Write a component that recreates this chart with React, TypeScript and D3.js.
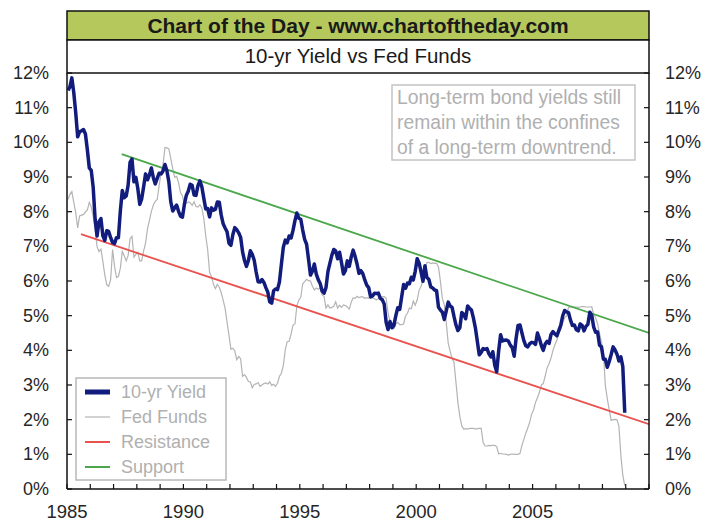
import React from "react";
import * as d3 from "d3";

const START_YEAR = 1985;

// 10-yr Treasury yield, monthly, Jan 1985 .. Dec 2008 (%)
const yield10: number[] = [
  11.5, 11.6, 11.86, 11.43, 10.85, 10.16, 10.31, 10.33, 10.37, 10.24, 9.78, 9.26,
  9.19, 8.7, 7.78, 7.3, 7.71, 7.8, 7.3, 7.17, 7.45, 7.43, 7.25, 7.11,
  7.08, 7.25, 7.25, 8.02, 8.61, 8.4, 8.45, 8.76, 9.42, 9.52, 8.86, 8.99,
  8.67, 8.21, 8.37, 8.72, 9.09, 8.92, 9.06, 9.26, 8.98, 8.8, 8.96, 9.11,
  9.09, 9.17, 9.36, 9.18, 8.86, 8.28, 8.02, 8.11, 8.19, 8.01, 7.87, 7.84,
  8.21, 8.47, 8.59, 8.79, 8.76, 8.48, 8.47, 8.75, 8.89, 8.72, 8.39, 8.08,
  8.09, 7.85, 8.11, 8.04, 8.07, 8.28, 8.27, 7.9, 7.65, 7.53, 7.42, 7.09,
  7.03, 7.34, 7.54, 7.48, 7.39, 7.26, 6.84, 6.59, 6.42, 6.59, 6.87, 6.77,
  6.6, 6.26, 5.98, 5.97, 6.04, 5.96, 5.81, 5.68, 5.4, 5.36, 5.72, 5.77,
  5.75, 5.97, 6.48, 6.97, 7.18, 7.1, 7.3, 7.24, 7.46, 7.74, 7.96, 7.81,
  7.78, 7.47, 7.2, 7.06, 6.63, 6.17, 6.28, 6.49, 6.2, 6.04, 5.93, 5.71,
  5.65, 5.81, 6.27, 6.51, 6.74, 6.91, 6.87, 6.64, 6.83, 6.53, 6.2, 6.3,
  6.58, 6.42, 6.69, 6.89, 6.71, 6.49, 6.22, 6.3, 6.21, 6.03, 5.88, 5.81,
  5.54, 5.57, 5.65, 5.64, 5.65, 5.5, 5.46, 5.34, 4.81, 4.6, 4.83, 4.65,
  4.72, 5.0, 5.23, 5.18, 5.54, 5.9, 5.79, 5.94, 5.92, 6.11, 6.03, 6.28,
  6.64, 6.52, 6.26, 5.99, 6.44, 6.1, 6.05, 5.83, 5.8, 5.74, 5.72, 5.24,
  5.16, 5.1, 4.89, 5.14, 5.39, 5.28, 5.24, 4.97, 4.73, 4.57, 4.65, 5.09,
  5.04, 4.91, 5.28, 5.21, 5.16, 4.93, 4.65, 4.26, 3.87, 3.94, 4.05, 4.03,
  4.05, 3.9, 3.81, 3.96, 3.57, 3.38, 3.98, 4.45, 4.27, 4.29, 4.3, 4.27,
  4.15, 4.08, 3.83, 4.35, 4.72, 4.73, 4.5, 4.28, 4.13, 4.1, 4.19, 4.23,
  4.22, 4.17, 4.5, 4.34, 4.14, 4.0, 4.18, 4.26, 4.2, 4.46, 4.54, 4.47,
  4.42, 4.57, 4.72, 4.99, 5.15, 5.11, 5.09, 4.88, 4.72, 4.73, 4.6, 4.56,
  4.76, 4.72, 4.56, 4.69, 4.75, 5.1, 5.0, 4.67, 4.52, 4.53, 4.15, 4.1,
  3.74, 3.74, 3.51, 3.68, 3.88, 4.1, 4.01, 3.89, 3.69, 3.81, 3.53, 2.2,
];

// Effective Fed Funds rate, monthly, Jan 1985 .. Dec 2008 (%)
const fedFunds: number[] = [
  8.35, 8.5, 8.58, 8.27, 7.97, 7.53, 7.88, 7.9, 7.92, 7.99, 8.05, 8.27,
  8.14, 7.86, 7.48, 6.99, 6.85, 6.92, 6.56, 6.17, 5.89, 5.85, 6.04, 6.91,
  6.43, 6.1, 6.13, 6.37, 6.85, 6.73, 6.58, 6.73, 7.22, 7.29, 6.69, 6.77,
  6.83, 6.58, 6.58, 6.87, 7.09, 7.51, 7.75, 8.01, 8.19, 8.3, 8.35, 8.76,
  9.12, 9.36, 9.85, 9.84, 9.81, 9.53, 9.24, 8.99, 9.02, 8.84, 8.55, 8.45,
  8.23, 8.24, 8.28, 8.26, 8.18, 8.29, 8.15, 8.13, 8.2, 8.11, 7.81, 7.31,
  6.91, 6.25, 6.12, 5.91, 5.78, 5.9, 5.82, 5.66, 5.45, 5.21, 4.81, 4.43,
  4.03, 4.06, 3.98, 3.73, 3.82, 3.76, 3.25, 3.3, 3.22, 3.1, 3.09, 2.92,
  3.02, 3.03, 3.07, 2.96, 3.0, 3.04, 3.06, 3.03, 3.09, 2.99, 3.02, 2.96,
  3.05, 3.25, 3.34, 3.56, 4.01, 4.25, 4.26, 4.47, 4.73, 4.76, 5.29, 5.45,
  5.53, 5.92, 5.98, 6.05, 6.01, 6.0, 5.85, 5.74, 5.8, 5.76, 5.8, 5.6,
  5.56, 5.22, 5.31, 5.22, 5.24, 5.27, 5.4, 5.22, 5.3, 5.24, 5.31, 5.29,
  5.25, 5.19, 5.39, 5.51, 5.5, 5.56, 5.52, 5.54, 5.54, 5.5, 5.52, 5.5,
  5.56, 5.51, 5.49, 5.45, 5.49, 5.56, 5.54, 5.55, 5.51, 5.07, 4.83, 4.68,
  4.63, 4.76, 4.81, 4.74, 4.74, 4.76, 4.99, 5.07, 5.22, 5.2, 5.42, 5.3,
  5.45, 5.73, 5.85, 6.02, 6.27, 6.53, 6.54, 6.5, 6.52, 6.51, 6.51, 6.4,
  5.98, 5.49, 5.31, 4.8, 4.21, 3.97, 3.77, 3.65, 3.07, 2.49, 2.09, 1.82,
  1.73, 1.74, 1.73, 1.75, 1.75, 1.75, 1.73, 1.74, 1.75, 1.75, 1.34, 1.24,
  1.24, 1.26, 1.25, 1.26, 1.26, 1.22, 1.01, 1.03, 1.01, 1.01, 1.0, 0.98,
  1.0, 1.01, 1.0, 1.0, 1.0, 1.03, 1.26, 1.43, 1.61, 1.76, 1.93, 2.16,
  2.28, 2.5, 2.63, 2.79, 3.0, 3.04, 3.26, 3.5, 3.62, 3.78, 4.0, 4.16,
  4.29, 4.49, 4.59, 4.79, 4.94, 4.99, 5.24, 5.25, 5.25, 5.25, 5.25, 5.24,
  5.25, 5.26, 5.26, 5.25, 5.25, 5.25, 5.26, 5.02, 4.94, 4.76, 4.49, 4.24,
  3.94, 2.98, 2.61, 2.28, 1.98, 2.0, 2.01, 2.0, 1.81, 0.97, 0.39, 0.1,
];

// Trend lines: [year, value]
const resistance: [number, number][] = [[1985.6, 7.35], [2010, 1.87]];
const support: [number, number][] = [[1987.35, 9.66], [2010, 4.5]];

const yTicks = [0, 1, 2, 3, 4, 5, 6, 7, 8, 9, 10, 11, 12];
const xLabelYears = [1985, 1990, 1995, 2000, 2005];
const xTickYears = d3.range(1985, 2011);

const titleText = "Chart of the Day - www.chartoftheday.com";
const subtitleText = "10-yr Yield vs Fed Funds";
const noteLines = [
  "Long-term bond yields still",
  "remain within the confines",
  "of a long-term downtrend.",
];
const legendItems = [
  { label: "10-yr Yield", color: "#111c7c", width: 5 },
  { label: "Fed Funds", color: "#b4b4b4", width: 1.2 },
  { label: "Resistance", color: "#e8524f", width: 2 },
  { label: "Support", color: "#4aa84a", width: 2 },
];

const FONT = "'Liberation Sans', Arial, sans-serif";

export default function App() {
  const W = 705;
  const H = 523;
  const left = 67;
  const right = 649;
  const top = 73;
  const bottom = 489;

  const x = d3.scaleLinear().domain([1985, 2010]).range([left, right]);
  const y = d3.scaleLinear().domain([0, 12]).range([bottom, top]);

  const toDate = (i: number) => START_YEAR + i / 12 + 1 / 24;
  const line = d3
    .line<number>()
    .x((_, i) => x(toDate(i)))
    .y((d) => y(d));
  const segLine = d3
    .line<[number, number]>()
    .x((d) => x(d[0]))
    .y((d) => y(d[1]));

  return (
    <svg
      width={W}
      height={H}
      style={{ position: "absolute", left: 0, top: 0, background: "#fff" }}
      fontFamily={FONT}
    >
      <defs>
        <clipPath id="plotClip">
          <rect x={left} y={top} width={right - left} height={bottom - top} />
        </clipPath>
      </defs>
      {/* Title band */}
      <rect x={left} y={11} width={right - left} height={29} fill="#b5c85c" stroke="#111" strokeWidth={1.5} />
      <text x={(left + right) / 2} y={33} textAnchor="middle" fontSize={21} fontWeight="bold" fill="#1a1a1a">
        {titleText}
      </text>
      <rect x={left} y={40} width={right - left} height={top - 40} fill="#fff" stroke="#111" strokeWidth={1.5} />
      <text x={(left + right) / 2} y={63} textAnchor="middle" fontSize={20.5} fill="#1a1a1a">
        {subtitleText}
      </text>

      {/* Data */}
      <g clipPath="url(#plotClip)">
        <path d={line(fedFunds) || ""} fill="none" stroke="#b4b4b4" strokeWidth={1.2} />
        <path d={segLine(resistance) || ""} fill="none" stroke="#e8524f" strokeWidth={1.8} />
        <path d={segLine(support) || ""} fill="none" stroke="#4aa84a" strokeWidth={1.8} />
        <path d={line(yield10) || ""} fill="none" stroke="#111c7c" strokeWidth={3.5} strokeLinejoin="round" />
      </g>

      {/* Frame */}
      <line x1={left} x2={left} y1={top} y2={bottom} stroke="#111" strokeWidth={1.5} />
      <line x1={right} x2={right} y1={top} y2={bottom} stroke="#111" strokeWidth={1.5} />
      <line x1={left} x2={right} y1={bottom} y2={bottom} stroke="#111" strokeWidth={1.5} />

      {/* Y ticks and labels */}
      {yTicks.map((t) => (
        <g key={"y" + t}>
          <line x1={left} x2={left + 5} y1={y(t)} y2={y(t)} stroke="#111" strokeWidth={1.2} />
          <line x1={right - 5} x2={right} y1={y(t)} y2={y(t)} stroke="#111" strokeWidth={1.2} />
          <text x={49} y={y(t) + 6} textAnchor="end" fontSize={18} fill="#262626">
            {t + "%"}
          </text>
          <text x={665} y={y(t) + 6} textAnchor="start" fontSize={18} fill="#262626">
            {t + "%"}
          </text>
        </g>
      ))}

      {/* X ticks and labels */}
      {xTickYears.map((yr) => (
        <line key={"xt" + yr} x1={x(yr)} x2={x(yr)} y1={bottom} y2={bottom - 5} stroke="#111" strokeWidth={1.2} />
      ))}
      {xLabelYears.map((yr) => (
        <text key={"xl" + yr} x={x(yr)} y={518} textAnchor="middle" fontSize={18.5} fill="#262626">
          {yr}
        </text>
      ))}

      {/* Note box */}
      <rect x={392} y={85} width={243} height={75} fill="#fff" stroke="#c4c4c4" strokeWidth={1.5} />
      {noteLines.map((s, i) => (
        <text key={"n" + i} x={397} y={104 + i * 25} fontSize={19.3} fill="#b0b0b0">
          {s}
        </text>
      ))}

      {/* Legend */}
      <rect x={76} y={378} width={150} height={102} fill="#fff" stroke="#b8b8b8" strokeWidth={1.5} />
      {legendItems.map((it, i) => {
        const cy = 392 + i * 25;
        return (
          <g key={"lg" + i}>
            <line x1={85} x2={110} y1={cy} y2={cy} stroke={it.color} strokeWidth={it.width} />
            <text x={121} y={cy + 6} fontSize={18} fill="#b0b0b0">
              {it.label}
            </text>
          </g>
        );
      })}
    </svg>
  );
}
